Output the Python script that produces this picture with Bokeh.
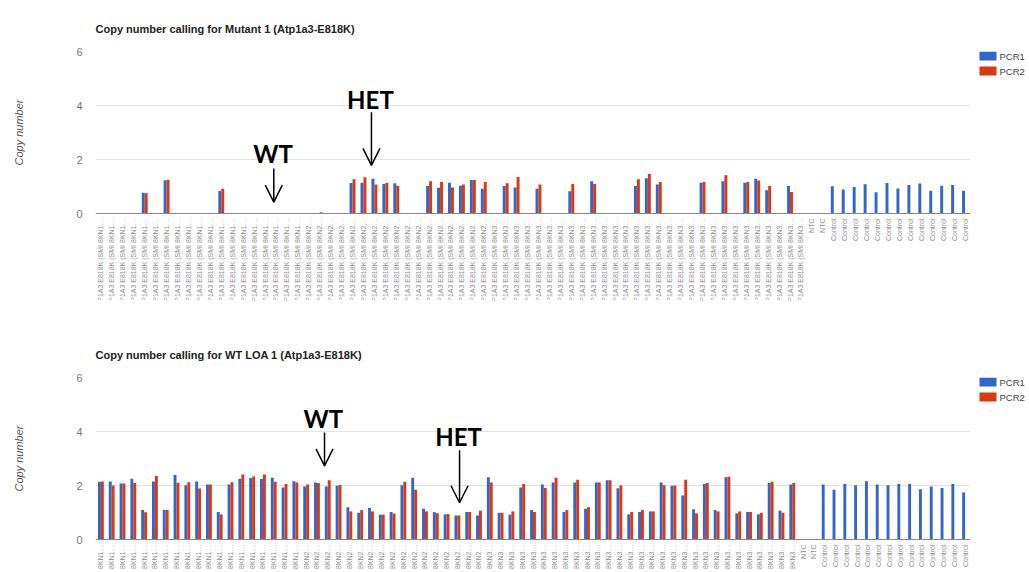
import math
from bokeh.plotting import figure
from bokeh.models import (Range1d, FixedTicker, Span, Label, Arrow, OpenHead,
                          ColumnDataSource, Spacer)
from bokeh.layouts import column, row
from bokeh.transform import dodge
from bokeh.embed import file_html
from bokeh.resources import INLINE
from bokeh.core.properties import value

NAN = float("nan")

# ---------------- data ----------------
series_names = ["PCR1", "PCR2"]
series_colors = ["#3366CC", "#DC3912"]

top_title = "Copy number calling for Mutant 1 (Atp1a3-E818K)"
bottom_title = "Copy number calling for WT LOA 1 (Atp1a3-E818K)"
y_label = "Copy number"
y_ticks = [0, 2, 4, 6]

sample_groups = ["8KN1"] * 19 + ["8KN2"] * 17 + ["8KN3"] * 29
sample_labels = ["ATP1A3 E818K (SMI %s\u2026" % g for g in sample_groups]
top_labels = sample_labels + ["NTC"] * 2 + ["Control"] * 13
bottom_labels = sample_labels + ["NTC"] * 2 + ["Control"] * 14

top_pcr1 = [0, 0, 0, 0, 0.77, 0, 1.23, 0, 0.02, 0,
            0, 0.83, 0, 0, 0, 0, 0, 0, 0, 0,
            0.02, 0, 0, 1.13, 1.14, 1.29, 1.09, 1.12, 0, 0.02,
            1.02, 0.95, 1.14, 1.03, 1.24, 0.92, 0, 1.02, 0.96, 0,
            0.92, 0, 0, 0.82, 0, 1.19, 0, 0, 0, 1.02,
            1.31, 1.07, 0, 0, 0, 1.14, 0, 1.19, 0, 1.14,
            1.29, 0.86, 0, 1.02, 0,
            0, 0,
            1.01, 0.89, 0.98, 1.08, 0.79, 1.13, 0.93, 1.06, 1.11, 0.84, 1.03, 1.06, 0.84]
top_pcr2 = [0, 0, 0, 0, 0.75, 0, 1.25, 0, 0, 0,
            0, 0.92, 0, 0, 0, 0, 0, 0, 0, 0,
            0.05, 0, 0, 1.27, 1.34, 1.07, 1.13, 1.03, 0, 0,
            1.19, 1.17, 0.96, 1.07, 1.24, 1.17, 0, 1.12, 1.35, 0,
            1.07, 0, 0, 1.09, 0, 1.09, 0, 0, 0, 1.27,
            1.46, 1.17, 0, 0, 0, 1.17, 0, 1.42, 0, 1.17,
            1.22, 1.02, 0, 0.80, 0,
            0, 0] + [NAN] * 13

bottom_pcr1 = [2.14, 2.15, 2.07, 2.25, 1.09, 2.15, 1.09, 2.39, 2.01, 2.15,
               2.04, 1.02, 2.04, 2.25, 2.28, 2.24, 2.29, 1.93, 2.16, 1.96,
               2.11, 1.96, 1.99, 1.19, 0.99, 1.17, 0.92, 1.02, 2.01, 2.29,
               1.14, 1.01, 0.93, 0.89, 1.02, 0.89, 2.31, 0.99, 0.92, 1.93,
               1.09, 2.04, 2.11, 1.02, 2.11, 1.14, 2.11, 2.19, 1.90, 0.93,
               1.02, 1.04, 2.11, 1.99, 1.63, 1.12, 2.06, 1.09, 2.31, 0.97,
               1.02, 0.93, 2.09, 1.07, 2.04,
               0, 0,
               2.04, 1.84, 2.06, 2.01, 2.16, 2.04, 2.01, 2.06, 2.06, 1.86, 1.96, 1.91, 2.06, 1.74]
bottom_pcr2 = [2.15, 2.00, 2.07, 2.09, 1.01, 2.35, 1.09, 2.10, 2.12, 1.89,
               2.04, 0.93, 2.12, 2.41, 2.33, 2.41, 2.14, 2.06, 2.11, 2.04,
               2.09, 2.19, 2.02, 1.04, 1.09, 1.04, 0.92, 0.96, 2.14, 1.84,
               1.04, 0.97, 0.94, 0.89, 1.02, 1.07, 2.11, 0.99, 1.04, 2.06,
               1.02, 1.91, 2.29, 1.09, 2.21, 1.19, 2.11, 2.19, 2.00, 1.02,
               1.09, 1.04, 2.01, 2.00, 2.21, 0.97, 2.09, 1.04, 2.32, 1.04,
               1.02, 0.99, 2.14, 0.99, 2.09,
               0, 0] + [NAN] * 14

# annotations: (text, label x index, label y value, arrow x, arrow y start, arrow y end)
top_notes = [("WT", 15.73, 2.21, 15.8, 1.67, 0.42),
             ("HET", 24.64, 4.23, 24.73, 3.75, 1.78)]
bottom_notes = [("WT", 20.6, 4.5, 20.7, 3.96, 2.73),
                ("HET", 33.11, 3.83, 33.2, 3.31, 1.36)]

FONT = "Liberation Sans"
PX_PER_UNIT = 27.0
FRAME_W = 875
YLAB_W = 40          # strip holding the y-axis title
AXIS_W = 55          # space for tick labels, left of frame
LEG_W = 55           # strip holding the legend
TOP = 51


def blank_fig(w, h):
    # frames in a row are aligned with the main plot's frame (TOP .. h),
    # so the y range is expressed in pixels from the figure top
    f = figure(width=w, height=h, x_range=Range1d(0, w), y_range=Range1d(h, TOP),
               output_backend="svg", toolbar_location=None,
               x_axis_location=None, y_axis_location=None,
               min_border=0, min_border_left=0, min_border_right=0,
               min_border_top=0, min_border_bottom=0)
    f.outline_line_color = None
    f.xgrid.visible = False
    f.ygrid.visible = False
    return f


def make_panel(title, labels, pcr1, pcr2, label_px, notes):
    n = len(labels)
    frame_h = int(round(6 * PX_PER_UNIT)) + label_px
    fig_h = TOP + frame_h
    ymin = -label_px / PX_PER_UNIT
    src = ColumnDataSource(dict(x=list(range(n)), pcr1=pcr1, pcr2=pcr2,
                                label=labels, zero=[0] * n))
    p = figure(width=AXIS_W + FRAME_W, height=fig_h,
               x_range=Range1d(-0.5, n - 0.5), y_range=Range1d(ymin, 6),
               output_backend="svg", toolbar_location=None,
               min_border_left=AXIS_W, min_border_right=0,
               min_border_top=TOP, min_border_bottom=0)
    p.outline_line_color = None
    p.xgrid.grid_line_color = None
    p.ygrid.ticker = FixedTicker(ticks=[t for t in y_ticks if t > 0])
    p.ygrid.grid_line_color = "#e3e3e3"
    p.xaxis.visible = False

    ax = p.yaxis[0]
    ax.ticker = FixedTicker(ticks=y_ticks)
    ax.axis_line_color = None
    ax.major_tick_line_color = None
    ax.minor_tick_line_color = None
    ax.major_tick_out = 0
    ax.major_tick_in = 0
    ax.minor_tick_out = 0
    ax.major_label_standoff = 13
    ax.major_label_text_font = FONT
    ax.major_label_text_font_size = "11px"
    ax.major_label_text_color = "#777777"

    p.title.text = title
    p.title.text_font = FONT
    p.title.text_font_style = "bold"
    p.title.text_font_size = "11px"
    p.title.text_color = "#222222"
    p.title.align = "left"
    p.title.standoff = 34

    p.vbar(x=dodge("x", -0.135, range=p.x_range), top="pcr1", width=0.27,
           source=src, fill_color=series_colors[0], line_color=None)
    p.vbar(x=dodge("x", 0.135, range=p.x_range), top="pcr2", width=0.27,
           source=src, fill_color=series_colors[1], line_color=None)

    p.add_layout(Span(location=0, dimension="width", line_color="#8a8a8a", line_width=1))

    p.text(x="x", y="zero", text="label", source=src, angle=math.pi / 2,
           text_align="right", text_baseline="middle", y_offset=5,
           text_font=value(FONT), text_font_size="7px", text_color="#8f8f8f")

    for text, lx, ly, axx, ay0, ay1 in notes:
        p.add_layout(Label(x=lx, y=ly, text=text, text_align="center",
                           text_baseline="middle", text_font="Lato",
                           text_font_style="bold", text_font_size="24px",
                           text_color="black"))
        p.add_layout(Arrow(end=OpenHead(size=17, line_width=1.5, line_color="black"),
                           x_start=axx, y_start=ay0, x_end=axx, y_end=ay1,
                           line_width=1.5, line_color="black"))

    # y-axis title strip (pixel coordinates from the figure top)
    yl = blank_fig(YLAB_W, fig_h)
    yl.text(x=[18], y=[TOP + 3 * PX_PER_UNIT], text=[y_label], angle=math.pi / 2,
            text_align="center", text_baseline="middle", text_font=value(FONT),
            text_font_style="italic", text_font_size="11px", text_color="#555555")

    # legend strip (pixel coordinates from the figure top)
    lg = blank_fig(LEG_W, fig_h)
    key_y = [TOP + 4.5 + 15 * i for i in range(len(series_names))]
    lg.rect(x=[17.5] * len(series_names), y=key_y, width=17, height=9,
            fill_color=series_colors, line_color=None)
    lg.text(x=[29] * len(series_names), y=key_y, text=series_names,
            text_align="left", text_baseline="middle", text_font=value(FONT),
            text_font_size="9.5px", text_color="#444444")

    return row(yl, p, lg)


panel1 = make_panel(top_title, top_labels, top_pcr1, top_pcr2, 87, top_notes)
panel2 = make_panel(bottom_title, bottom_labels, bottom_pcr1, bottom_pcr2, 32, bottom_notes)

layout = column(panel1, Spacer(width=YLAB_W + AXIS_W + FRAME_W + LEG_W, height=26), panel2)

open("out.html", "w").write(file_html(layout, INLINE))
